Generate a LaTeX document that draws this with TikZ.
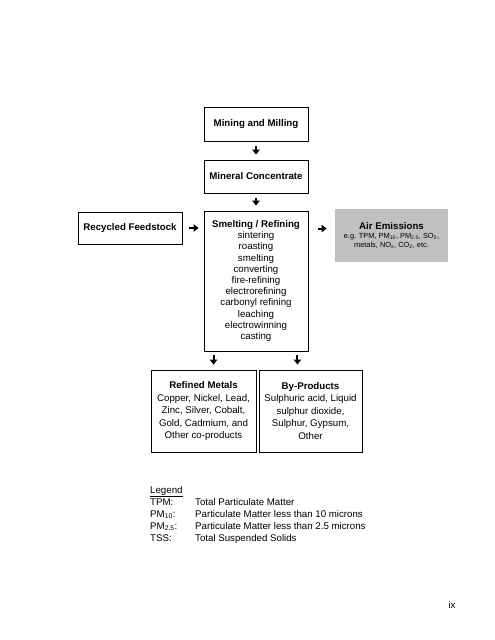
\documentclass[tikz,border=0pt]{standalone}
\usepackage{fontspec}
\setmainfont{Liberation Sans}
\usetikzlibrary{arrows.meta,calc}
\definecolor{airgray}{HTML}{C0C0C0}
\begin{document}
\begin{tikzpicture}[x=1pt,y=-1pt,
  box/.style={draw, line width=0.9pt, align=center, inner sep=0pt, font=\fontsize{9.7}{11.2}\selectfont},
  arr/.style={line width=2pt, -{Triangle[length=5pt,width=7.5pt]}},
  txt/.style={inner sep=0pt, align=left, font=\fontsize{9.7}{12}\selectfont},
]
\useasboundingbox (0,0) rectangle (495,640);

\node[box, minimum width=104pt, minimum height=34pt] (mining) at (256,124) {\textbf{Mining and Milling}};
\node[box, minimum width=104pt, minimum height=33pt] (mineral) at (256,176.5) {\textbf{Mineral Concentrate}};
\node[box, minimum width=104pt, minimum height=32pt] (recycled) at (130,228) {\textbf{Recycled Feedstock}};
\node[box, minimum width=104pt, minimum height=140pt] (smelt) at (256,281)
  {\textbf{Smelting / Refining}\\sintering\\roasting\\smelting\\converting\\fire-refining\\electrorefining\\carbonyl refining\\leaching\\electrowinning\\casting};
\node[box, draw=none, fill=airgray, minimum width=113pt, minimum height=53pt, font=\fontsize{7.4}{8.6}\selectfont] (air) at (391.5,235.5)
  {{\fontsize{9.7}{11}\selectfont\textbf{Air Emissions}}\\e.g. TPM, PM\textsubscript{10}, PM\textsubscript{2.5}, SO\textsubscript{2},\\metals, NO\textsubscript{x}, CO\textsubscript{2}, etc.};
\node[box, minimum width=105pt, minimum height=82pt, font=\fontsize{9.7}{12.5}\selectfont] (metals) at (203.5,411)
  {\textbf{Refined Metals}\\Copper, Nickel, Lead,\\Zinc, Silver, Cobalt,\\Gold, Cadmium, and\\Other co-products};
\node[box, minimum width=103pt, minimum height=82pt, font=\fontsize{9.7}{12.5}\selectfont] (byprod) at (310.5,411)
  {\textbf{By-Products}\\Sulphuric acid, Liquid\\sulphur dioxide,\\Sulphur, Gypsum,\\Other};

\draw[arr, shorten <=5pt, shorten >=5pt] (mining) -- (mineral);
\draw[arr, shorten <=5pt, shorten >=5pt] (mineral) -- (smelt);
\draw[arr, shorten <=7pt, shorten >=5pt] (recycled.east) -- (recycled.east -| smelt.west);
\coordinate (sa) at ($(smelt.north east)+(0,18)$);
\draw[arr, shorten <=10pt, shorten >=8pt] (sa) -- (sa -| air.west);
\coordinate (d1) at ($(smelt.south west)+(10,0)$);
\coordinate (d2) at ($(smelt.south east)+(-11,0)$);
\draw[arr, shorten <=4pt, shorten >=5pt] (d1) -- (d1 |- metals.north);
\draw[arr, shorten <=4pt, shorten >=5pt] (d2) -- (d2 |- byprod.north);

\node[txt, anchor=north west] (legend) at (150,486)
  {\underline{Legend}\\
   \makebox[45pt][l]{TPM:}Total Particulate Matter\\
   \makebox[45pt][l]{PM\textsubscript{10}:}Particulate Matter less than 10 microns\\
   \makebox[45pt][l]{PM\textsubscript{2.5}:}Particulate Matter less than 2.5 microns\\
   \makebox[45pt][l]{TSS:}Total Suspended Solids};

\node[txt, font=\fontsize{9.7}{11}\selectfont] (page) at (452,605) {ix};
\end{tikzpicture}
\end{document}
